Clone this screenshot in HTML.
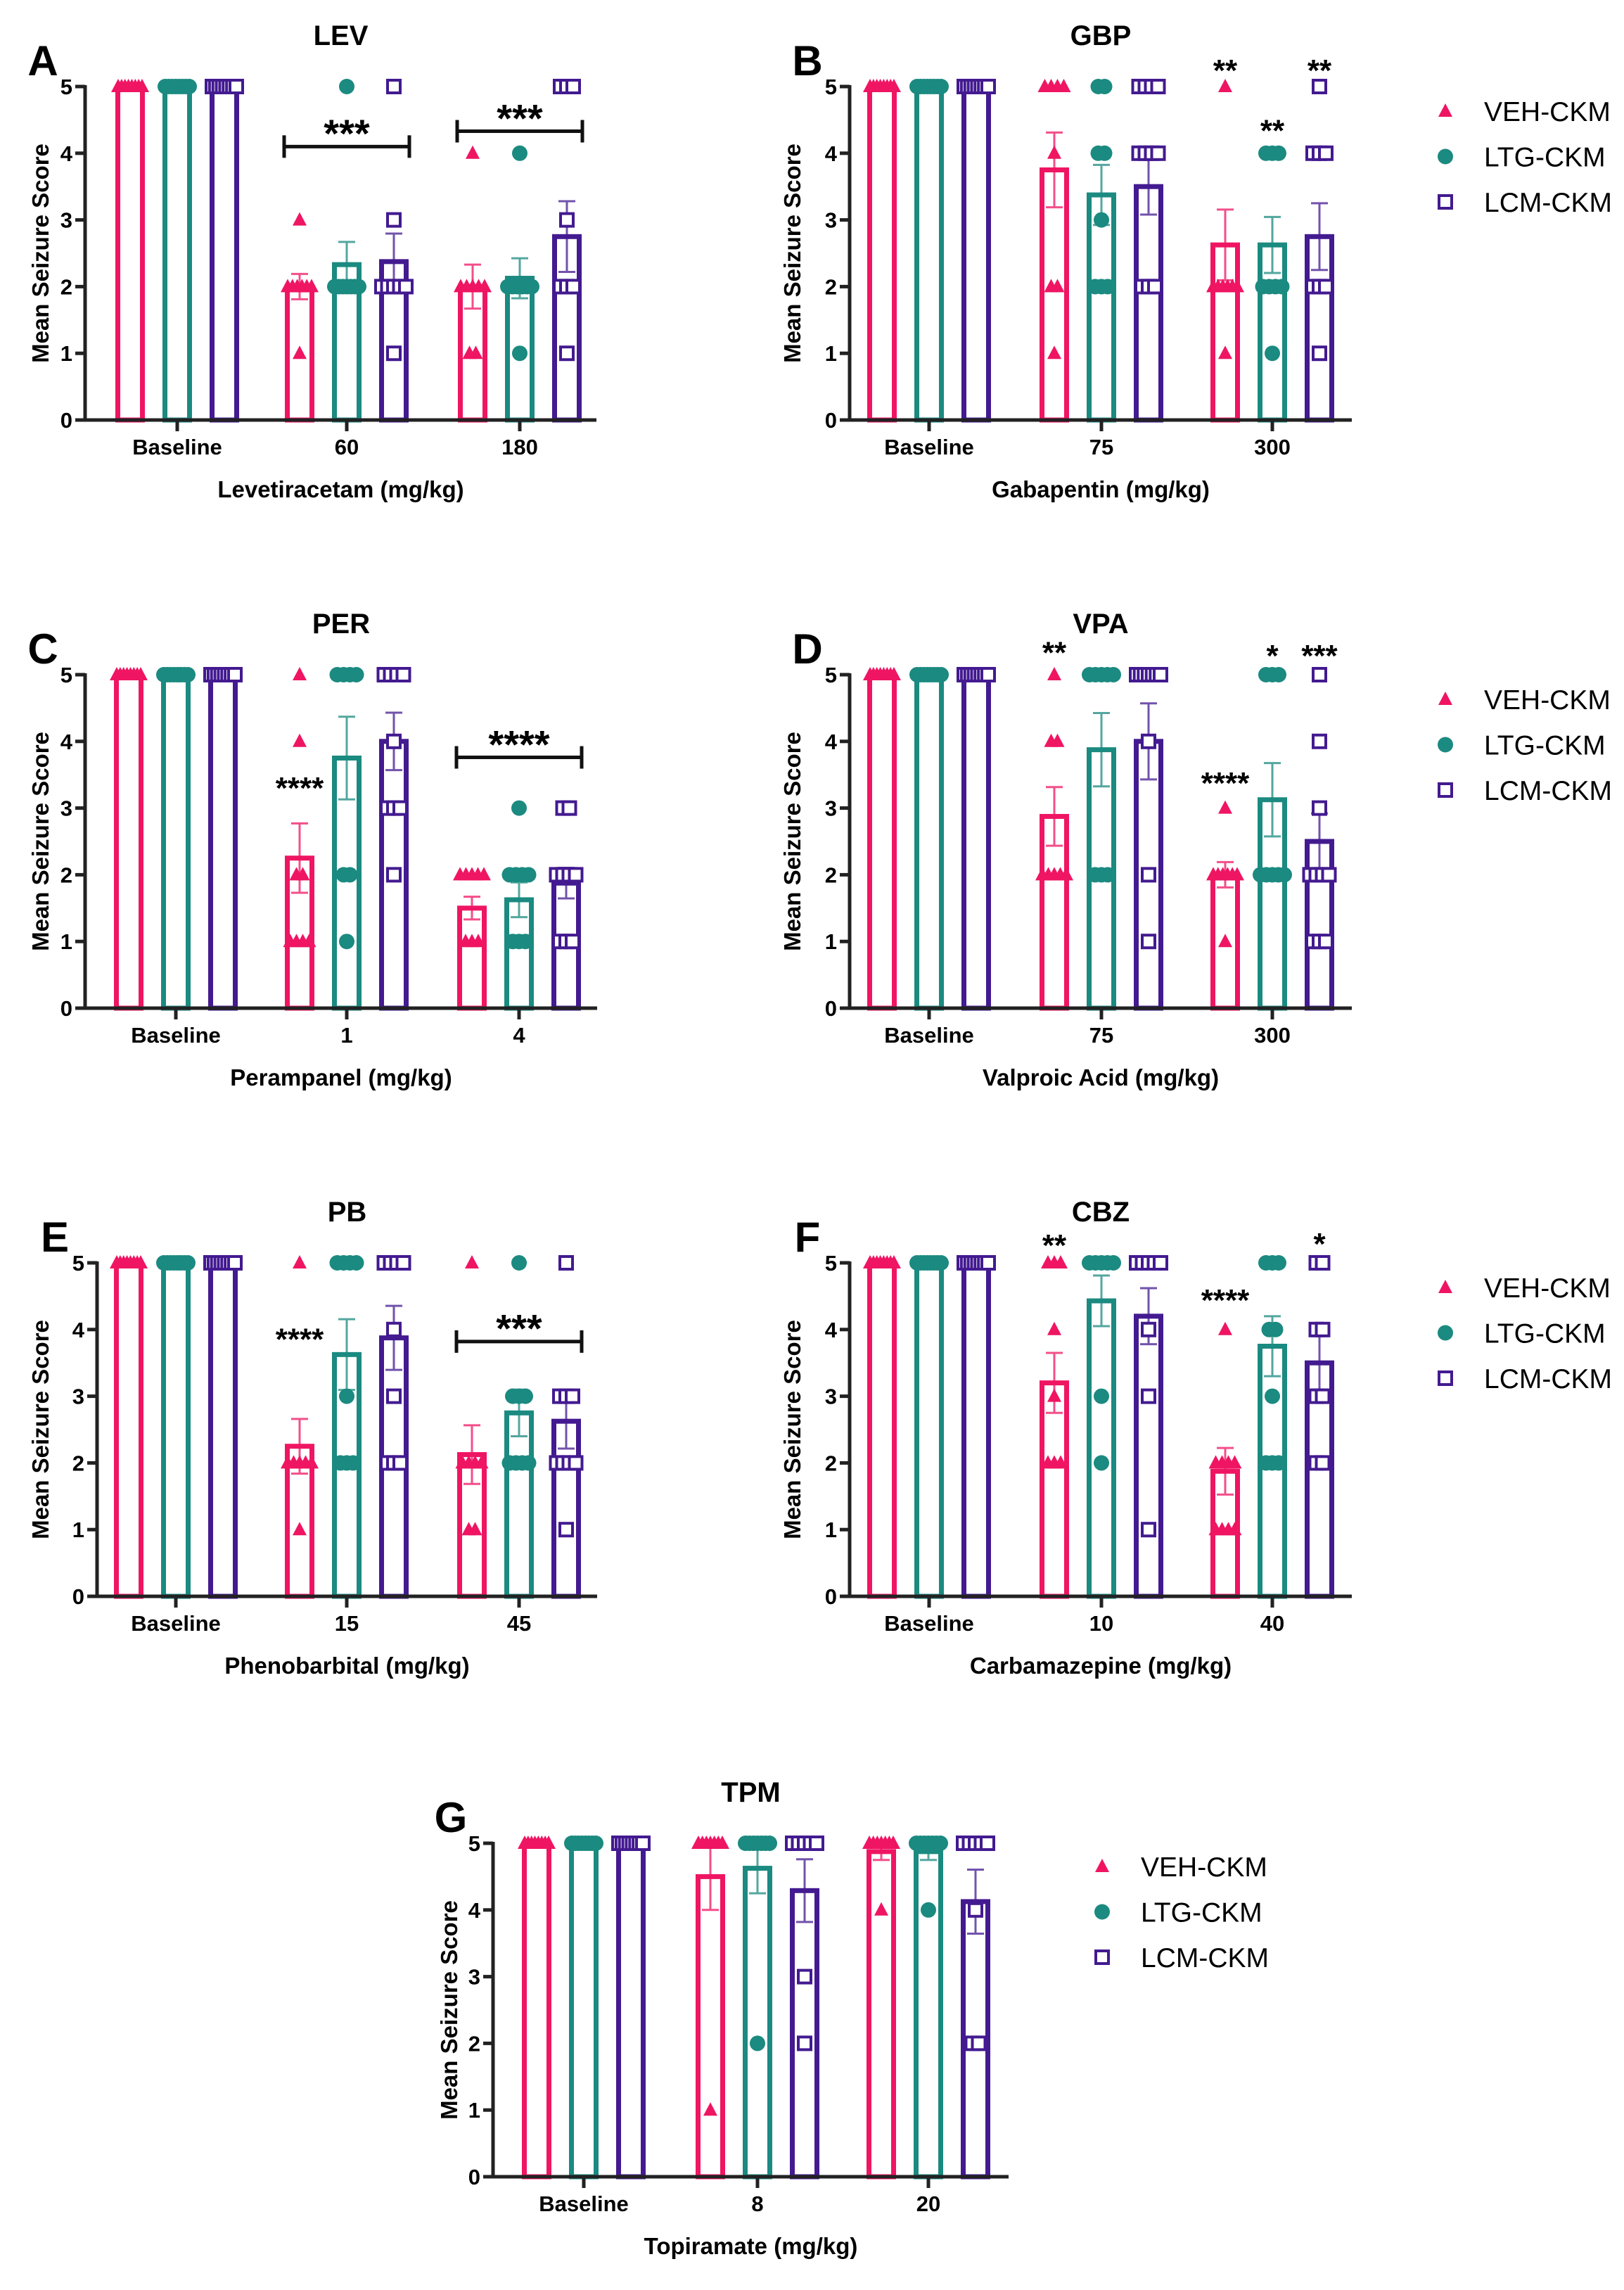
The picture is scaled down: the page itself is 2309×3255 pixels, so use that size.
<!DOCTYPE html>
<html><head><meta charset="utf-8">
<style>
html,body{margin:0;padding:0;background:#fff;}
svg{display:block;font-family:"Liberation Sans",Arial,sans-serif;}
</style></head>
<body>
<svg id="fig" width="2309" height="3255" viewBox="0 0 2309 3255" xmlns="http://www.w3.org/2000/svg"></svg>
<script>
// ---- data ----
const seriesNames = ["VEH-CKM","LTG-CKM","LCM-CKM"];
const colors = ["#ef1563","#1b8a80","#431a90"];
const yTicks = [0,1,2,3,4,5];
const titles = ["LEV","GBP","PER","VPA","PB","CBZ","TPM"];
const letters = ["A","B","C","D","E","F","G"];
const xTitles = ["Levetiracetam (mg/kg)","Gabapentin (mg/kg)","Perampanel (mg/kg)","Valproic Acid (mg/kg)","Phenobarbital (mg/kg)","Carbamazepine (mg/kg)","Topiramate (mg/kg)"];
const categories = [["Baseline","60","180"],["Baseline","75","300"],["Baseline","1","4"],["Baseline","75","300"],["Baseline","15","45"],["Baseline","10","40"],["Baseline","8","20"]];
const means = [
 [[5,5,5],[2.0,2.33,2.375],[2.0,2.125,2.75]],
 [[5,5,5],[3.75,3.375,3.5],[2.625,2.625,2.75]],
 [[5,5,5],[2.25,3.75,4.0],[1.5,1.625,1.875]],
 [[5,5,5],[2.875,3.875,4.0],[2.0,3.125,2.5]],
 [[5,5,5],[2.25,3.625,3.875],[2.125,2.75,2.625]],
 [[5,5,5],[3.2,4.43,4.2],[1.875,3.75,3.5]],
 [[5,5,5],[4.5,4.625,4.29],[4.875,4.875,4.125]]
];
const sems = [
 [[0,0,0],[0.19,0.34,0.42],[0.33,0.3,0.53]],
 [[0,0,0],[0.56,0.45,0.42],[0.53,0.42,0.5]],
 [[0,0,0],[0.52,0.62,0.43],[0.17,0.26,0.23]],
 [[0,0,0],[0.44,0.55,0.57],[0.19,0.55,0.42]],
 [[0,0,0],[0.41,0.53,0.48],[0.44,0.35,0.41]],
 [[0,0,0],[0.45,0.38,0.42],[0.35,0.45,0.4]],
 [[0,0,0],[0.5,0.375,0.47],[0.125,0.125,0.48]]
];
const B8=[5,5,5,5,5,5,5,5];
const points = [
 [[B8,B8,B8],[[3,2,2,2,2,2,2,1],[5,2,2,2,2,2,2,2],[5,3,2,2,2,2,2,1]],[[4,2,2,2,2,2,1,1],[4,2,2,2,2,2,2,1],[5,5,5,3,2,2,2,1]]],
 [[B8,B8,B8],[[5,5,5,5,4,2,2,1],[5,5,4,4,3,2,2,2],[5,5,5,5,4,4,4,4,2,2,2]],[[5,2,2,2,2,2,2,1],[4,4,4,2,2,2,2,1],[5,4,4,4,2,2,2,1]]],
 [[B8,B8,B8],[[5,4,2,2,1,1,1,1],[5,5,5,5,2,2,1],[5,5,5,5,4,3,3,3,2]],[[2,2,2,2,2,1,1,1],[3,2,2,2,2,1,1,1],[3,3,2,2,2,2,1,1,1]]],
 [[B8,B8,B8],[[5,4,4,2,2,2,2,2],[5,5,5,5,5,2,2,2],[5,5,5,5,5,5,5,4,2,1]],[[3,2,2,2,2,2,2,1],[5,5,5,2,2,2,2,2],[5,4,3,2,2,2,2,1,1,1]]],
 [[B8,B8,B8],[[5,2,2,2,2,2,1],[5,5,5,5,3,2,2,2],[5,5,5,5,4,3,2,2,2]],[[5,2,2,2,2,1,1],[5,3,3,3,2,2,2,2],[5,3,3,3,2,2,2,2,1]]],
 [[B8,B8,B8],[[5,5,5,4,3,2,2,2],[5,5,5,5,5,3,2],[5,5,5,5,5,4,3,1]],[[4,2,2,2,2,1,1,1,1],[5,5,5,4,4,3,2,2,2],[5,5,4,4,3,3,2,2]]],
 [[B8,B8,B8],[[5,5,5,5,5,5,5,1],[5,5,5,5,5,5,5,2],[5,5,5,5,5,3,2]],[[5,5,5,5,5,5,5,4],[5,5,5,5,5,5,5,4],[5,5,5,5,5,4,2,2]]]
];
// significance: [panel, group, series(-1 = bracket), value, text, big]
const sigMarks = [
 [0,1,-1,4.1,"***",1],[0,2,-1,4.33,"***",1],
 [1,2,0,5.34,"**",0],[1,2,1,4.44,"**",0],[1,2,2,5.34,"**",0],
 [2,1,0,3.4,"****",0],[2,2,-1,3.76,"****",1],
 [3,1,0,5.43,"**",0],[3,2,0,3.47,"****",0],[3,2,1,5.38,"*",0],[3,2,2,5.38,"***",0],
 [4,1,0,3.95,"****",0],[4,2,-1,3.82,"***",1],
 [5,1,0,5.36,"**",0],[5,2,0,4.54,"****",0],[5,2,2,5.38,"*",0]
];
// ---- layout ----
const panels = [
 {ax:121,y0:597,g:[252,493,739],end:848,lx:57,legend:[2055,158]},
 {ax:1208,y0:597,g:[1321,1566,1809],end:1922,lx:1126,legend:null},
 {ax:121,y0:1433,g:[250,493,738],end:849,lx:57,legend:[2055,994]},
 {ax:1208,y0:1433,g:[1321,1566,1809],end:1922,lx:1126,legend:null},
 {ax:138,y0:2269,g:[250,493,738],end:849,lx:57,legend:[2055,1830]},
 {ax:1208,y0:2269,g:[1321,1566,1809],end:1922,lx:1126,legend:null},
 {ax:701,y0:3094,g:[830,1077,1320],end:1434,lx:638,legend:[1567,2653]}
];
const UNIT=94.8, OFF=67, BW=35;
const svg=document.getElementById('fig');
const NS="http://www.w3.org/2000/svg";
function mk(tag,attrs,parent){const e=document.createElementNS(NS,tag);for(const k in attrs)e.setAttribute(k,attrs[k]);(parent||svg).appendChild(e);return e;}
function marker(s,x,y,parent){
  let e;
  if(s===0){e=mk('polygon',{points:`${x},${y-11} ${x+10},${y+8} ${x-10},${y+8}`,fill:colors[0]},parent);}
  else if(s===1){e=mk('circle',{cx:x,cy:y,r:11,fill:colors[1]},parent);}
  else {e=mk('rect',{x:x-9,y:y-9,width:18,height:18,fill:'#fff',stroke:colors[2],'stroke-width':4},parent);}
  return e;
}
panels.forEach((P,pi)=>{
  const G=mk('g',{});
  
  
  const yv=v=>P.y0-v*UNIT;
  const cx=(gi,s)=>P.g[gi]+(s-1)*OFF;
  const mid=(P.ax+P.end)/2;
  let t=mk('text',{x:mid,y:P.y0-533,'font-size':40,'font-weight':'bold','text-anchor':'middle'},G);t.textContent=titles[pi];
  
  t=mk('text',{x:P.ax-60,y:P.y0-490,'font-size':60,'font-weight':'bold','text-anchor':'middle'},G);t.textContent=letters[pi];
  
  // bars
  for(let gi=0;gi<3;gi++)for(let s=0;s<3;s++){
    const m=means[pi][gi][s], x=cx(gi,s);
    const r=mk('rect',{x:x-BW/2,y:yv(m),width:BW,height:m*UNIT,fill:'none',stroke:colors[s],'stroke-width':7},G);
    
    
  }
  // error bars
  for(let gi=0;gi<3;gi++)for(let s=0;s<3;s++){
    const m=means[pi][gi][s], e=sems[pi][gi][s]; if(!e)continue;
    const x=cx(gi,s), top=yv(m+e), bot=yv(m-e);
    const eg=mk('g',{stroke:colors[s],'stroke-width':3,opacity:0.75},G);
    
    mk('line',{x1:x,y1:top,x2:x,y2:bot},eg);
    mk('line',{x1:x-12,y1:top,x2:x+12,y2:top},eg);
    mk('line',{x1:x-12,y1:bot,x2:x+12,y2:bot},eg);
  }
  // points
  for(let gi=0;gi<3;gi++)for(let s=0;s<3;s++){
    const arr=points[pi][gi][s]; const cnt={};
    arr.forEach(v=>cnt[v]=(cnt[v]||0)+1);
    for(const v in cnt){const n=cnt[v];
      const sp=n>1?Math.min(9,34/(n-1)):0;
      for(let i=0;i<n;i++){
      const p=marker(s,cx(gi,s)+(i-(n-1)/2)*sp,yv(+v),G);
      
    }}
  }
  // axes
  const ax=mk('g',{stroke:'#222','stroke-width':5},G);
  
  mk('line',{x1:P.ax,y1:yv(5)-2,x2:P.ax,y2:P.y0+2},ax);
  mk('line',{x1:P.ax-2,y1:P.y0,x2:P.end,y2:P.y0},ax);
  yTicks.forEach(v=>{
    mk('line',{x1:P.ax-14,y1:yv(v),x2:P.ax,y2:yv(v)},ax);
    const tt=mk('text',{x:P.ax-18,y:yv(v)+11,'font-size':31,'font-weight':'bold','text-anchor':'end'},G);tt.textContent=v;
    
  });
  for(let gi=0;gi<3;gi++){
    mk('line',{x1:P.g[gi],y1:P.y0,x2:P.g[gi],y2:P.y0+16},ax);
    const tt=mk('text',{x:P.g[gi],y:P.y0+49,'font-size':31,'font-weight':'bold','text-anchor':'middle'},G);tt.textContent=categories[pi][gi];
    
  }
  t=mk('text',{x:mid,y:P.y0+110,'font-size':33,'font-weight':'bold','text-anchor':'middle'},G);t.textContent=xTitles[pi];
  
  const ly=P.y0-2.5*UNIT;
  t=mk('text',{x:P.lx,y:ly,'font-size':33,'font-weight':'bold','text-anchor':'middle',transform:`rotate(-90 ${P.lx} ${ly}) translate(0 12)`},G);t.textContent="Mean Seizure Score";
  
  // significance
  sigMarks.filter(a=>a[0]===pi).forEach(a=>{
    const [_,gi,s,v,txt,big]=a;
    const fs=big?56:44;
    if(s<0){
      const x1=cx(gi,0)-22,x2=cx(gi,2)+22,y=yv(v);
      const bg=mk('g',{stroke:'#111','stroke-width':5},G);
      
      mk('line',{x1:x1,y1:y,x2:x2,y2:y},bg);
      mk('line',{x1:x1,y1:y-16,x2:x1,y2:y+16},bg);
      mk('line',{x1:x2,y1:y-16,x2:x2,y2:y+16},bg);
      const st=mk('text',{x:(x1+x2)/2,y:y-30+fs*0.55,'font-size':fs,'font-weight':'bold','text-anchor':'middle'},G);st.textContent=txt;
      
    } else {
      const st=mk('text',{x:cx(gi,s),y:yv(v)+fs*0.55,'font-size':fs,'font-weight':'bold','text-anchor':'middle'},G);st.textContent=txt;
      
    }
  });
  // legend
  if(P.legend){
    const LG=mk('g',{},G);
    
    seriesNames.forEach((nm,s)=>{
      const y=P.legend[1]+s*64.5;
      const m=marker(s,P.legend[0],y,LG);
      
      const lt=mk('text',{x:P.legend[0]+55,y:y+14,'font-size':39},LG);lt.textContent=nm;
      
    });
  }
});
</script>
</body></html>
